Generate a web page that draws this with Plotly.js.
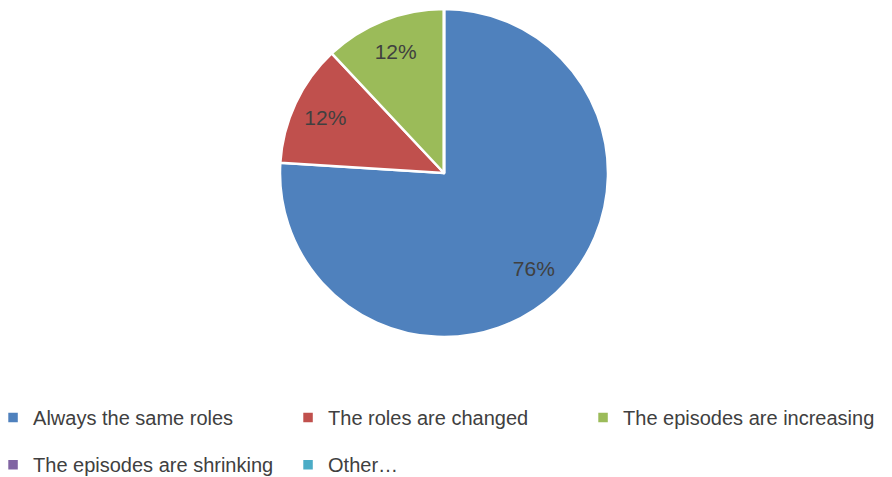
<!DOCTYPE html>
<html><head><meta charset="utf-8">
<script src="https://cdn.plot.ly/plotly-3.0.1.min.js"></script>
<style>html,body{margin:0;padding:0;background:#fff}</style>
</head><body>
<div id="chart" style="width:892px;height:477px"></div>
<script>
const labels = ["Always the same roles", "The roles are changed", "The episodes are increasing", "The episodes are shrinking", "Other…"];
const values = [76, 12, 12, 0, 0];
const colors = ["#4F81BD", "#C0504D", "#9BBB59", "#8064A2", "#4BACC6"];

const dom = {x: [0.3139, 0.6816], y: [0.1061, 0.9761]};
const legendLabels = labels.map(s => '<span style="font-size:20px;baseline-shift:6px">' + s + '</span>');

Plotly.newPlot("chart", [{
  // full pie with slice borders and legend
  type: "pie",
  labels: legendLabels,
  values: values,
  sort: false,
  direction: "clockwise",
  rotation: 0,
  marker: {colors: colors, line: {color: "#ffffff", width: 2.5}},
  textinfo: "none",
  domain: dom,
  hoverinfo: "none"
}, {
  // transparent ring overlay that carries the percentage labels
  type: "pie",
  labels: labels,
  values: values,
  sort: false,
  direction: "clockwise",
  rotation: 0,
  hole: 0.6,
  marker: {colors: labels.map(() => "rgba(0,0,0,0)"), line: {width: 0}},
  textinfo: "percent",
  textposition: "inside",
  insidetextorientation: "horizontal",
  texttemplate: "%{percent:.0%}",
  textfont: {family: "Liberation Sans, Arial, sans-serif", size: 21, color: "#404040"},
  domain: dom,
  hoverinfo: "none",
  showlegend: false
}], {
  width: 892, height: 477,
  margin: {l: 0, r: 0, t: 0, b: 100, autoexpand: false},
  paper_bgcolor: "#ffffff",
  showlegend: true,
  legend: {
    orientation: "h", x: -0.0078, xanchor: "left", y: -0.0318, yanchor: "top",
    entrywidth: 250, entrywidthmode: "pixels",
    font: {family: "Liberation Sans, Arial, sans-serif", size: 34, color: "#404040"},
    itemwidth: 30
  }
}, {displayModeBar: false, staticPlot: true});
</script>
</body></html>
